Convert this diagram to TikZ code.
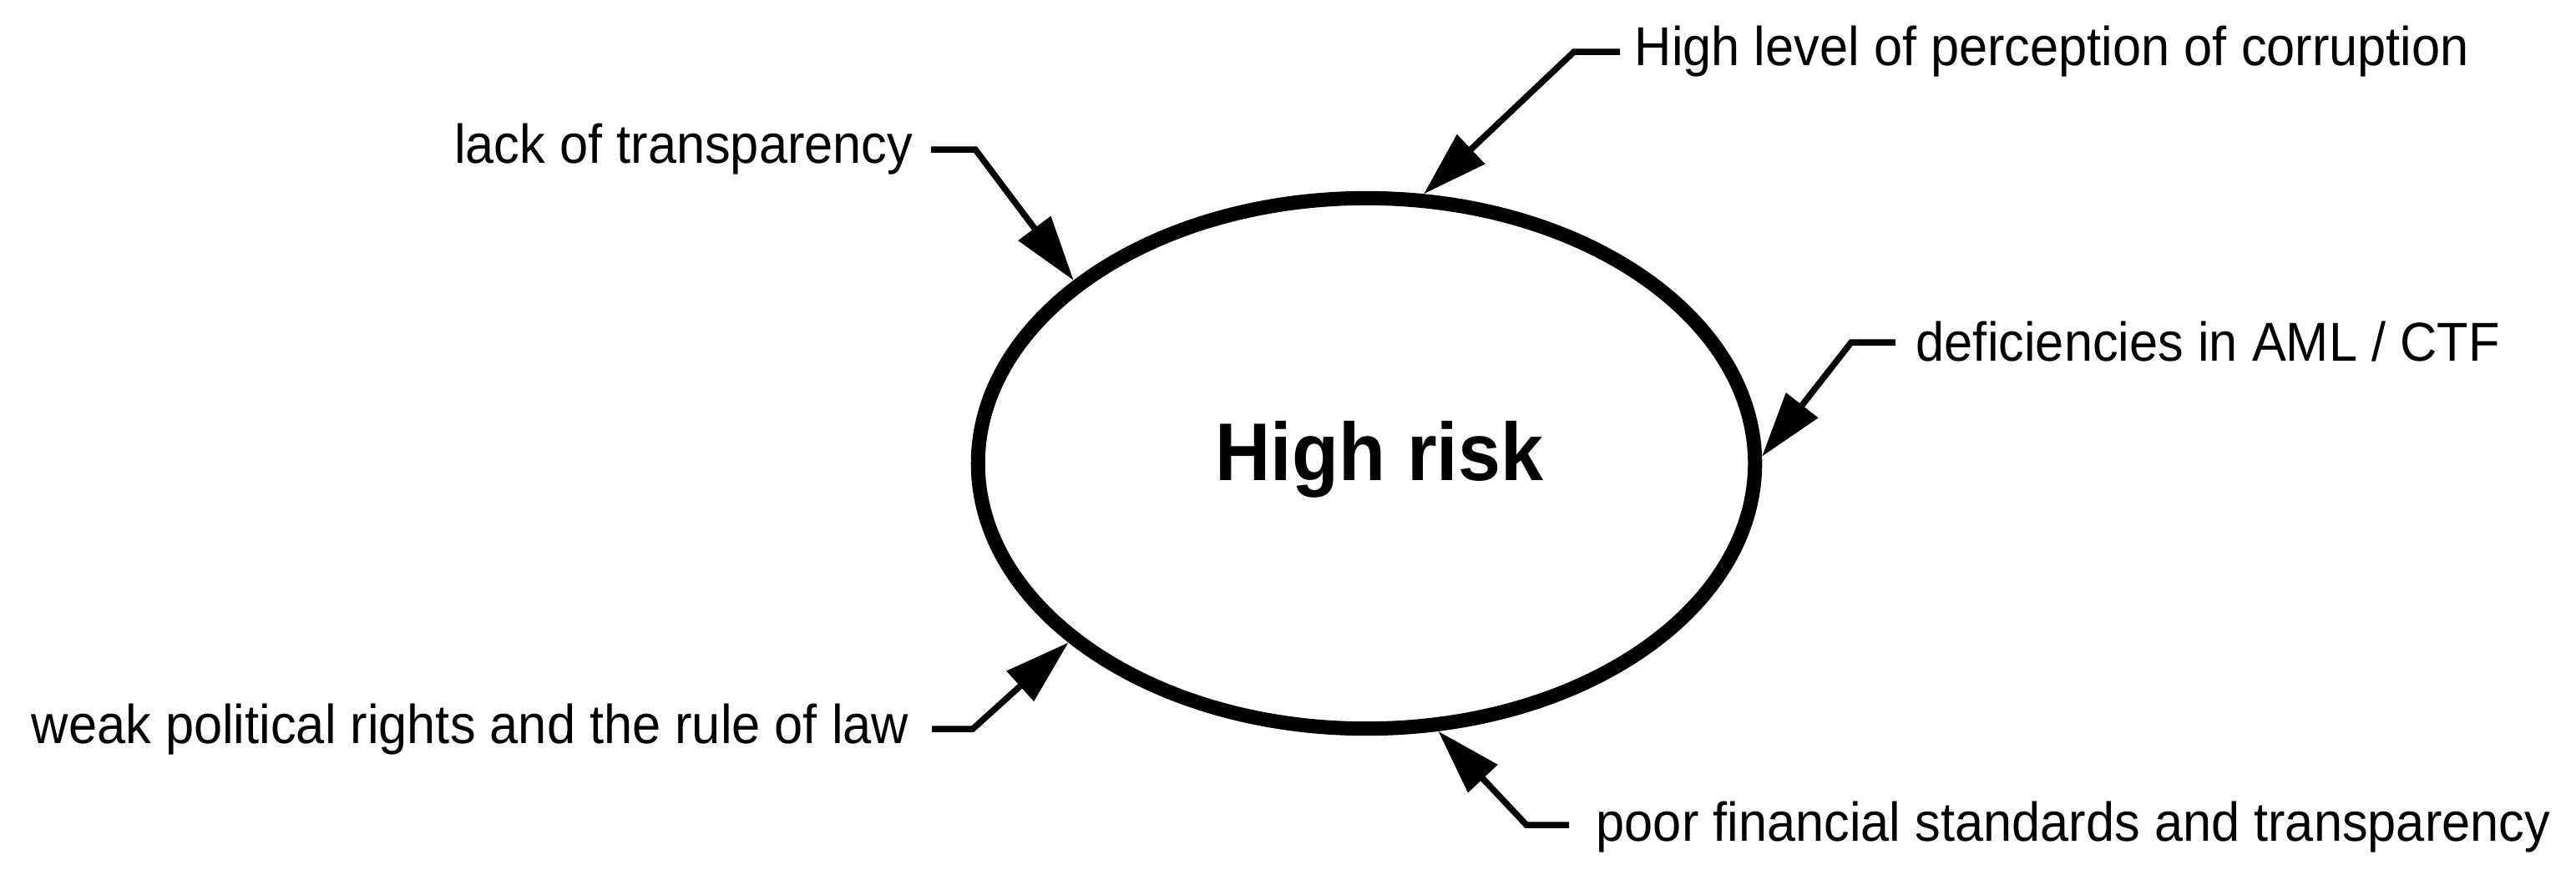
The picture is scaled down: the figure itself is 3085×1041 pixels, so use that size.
\documentclass[tikz,border=0pt]{standalone}
\usepackage{fontspec}
\setmainfont{Liberation Sans}[FakeStretch=0.935]
\usetikzlibrary{arrows.meta,shapes.geometric}
\tikzset{
  lbl/.style={inner sep=0pt, font=\fontsize{18.66pt}{22pt}\selectfont},
  risk/.style={ellipse, draw=black, line width=0.17cm, inner sep=0pt,
    minimum width=9.30cm, minimum height=6.35cm},
  risktext/.style={inner sep=0pt, font=\fontsize{27.9pt}{32pt}\selectfont\bfseries},
  conn/.style={line width=0.075cm, draw=black, line join=miter,
    -{Triangle[length=0.78cm,width=0.47cm]}}
}
\begin{document}
\begin{tikzpicture}[x=0.01cm,y=-0.01cm]
  \useasboundingbox[fill=white] (0,0) rectangle (3085,1041);
  \node[risk] (hr) at (1636.5,555) {};
  \node[risktext, anchor=base] (hrt) at (1652,575) {High risk};

  \node[lbl, anchor=base west] (t1) at (1957,78) {High level of perception of corruption};
  \node[lbl, anchor=base east] (t2) at (1094,195) {lack of transparency};
  \node[lbl, anchor=base west] (t3) at (2294,432) {deficiencies in AML / CTF};
  \node[lbl, anchor=base east] (t4) at (1089,890) {weak political rights and the rule of law};
  \node[lbl, anchor=base west] (t5) at (1911,1007) {poor financial standards and transparency};

  \coordinate (s1) at (1940,62);  \coordinate (k1) at (1885,62);
  \coordinate (s2) at (1115,179); \coordinate (k2) at (1168,179);
  \coordinate (s3) at (2270,410); \coordinate (k3) at (2217,410);
  \coordinate (s4) at (1116,873); \coordinate (k4) at (1165,873);
  \coordinate (s5) at (1879,988); \coordinate (k5) at (1828,988);

  \draw[conn] (s1) -- (k1) -- (hr.78.9);
  \draw[conn] (s2) -- (k2) -- (hr.148.7);
  \draw[conn] (s3) -- (k3) -- (hr.1.44);
  \draw[conn] (s4) -- (k4) -- (hr.211.3);
  \draw[conn] (s5) -- (k5) -- (hr.285.9);
\end{tikzpicture}
\end{document}
